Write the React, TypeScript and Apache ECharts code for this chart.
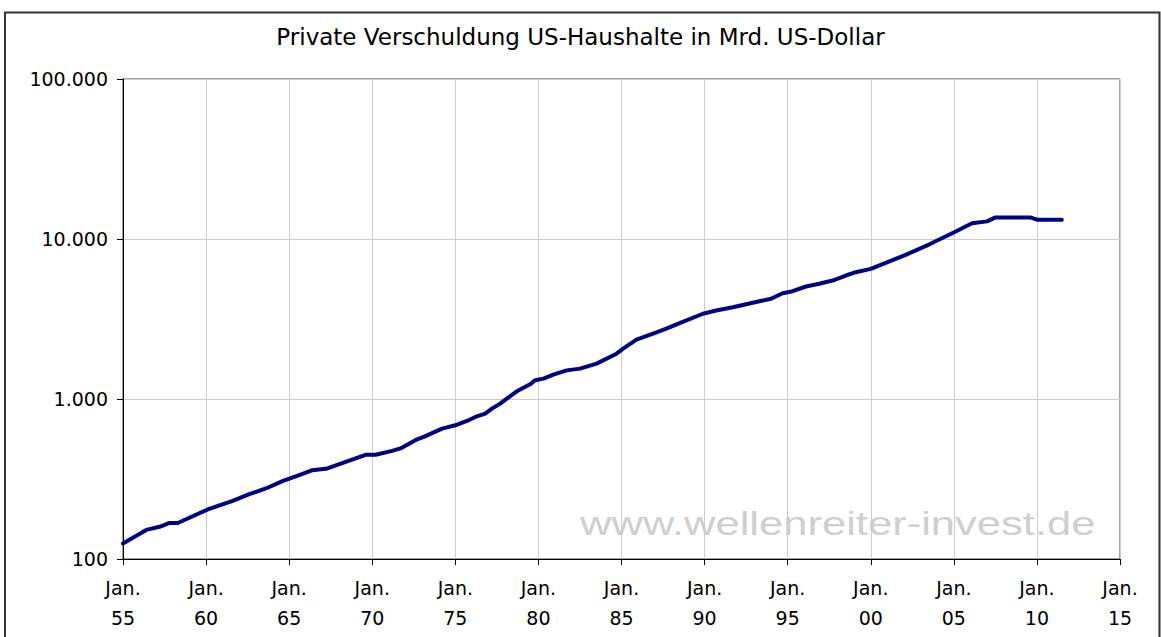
import React, { useEffect, useRef } from "react";
import * as echarts from "echarts";

const TITLE = "Private Verschuldung US-Haushalte in Mrd. US-Dollar";
const WATERMARK = "www.wellenreiter-invest.de";

// fractional years (x)
const years = [
  1955.0, 1956.4, 1957.2, 1957.8, 1958.3, 1960.1, 1961.6, 1962.6, 1963.6, 1964.6,
  1965.6, 1966.4, 1967.3, 1968.4, 1969.6, 1970.2, 1971.2, 1971.7, 1972.7, 1973.1,
  1974.2, 1975.0, 1975.7, 1976.2, 1976.8, 1977.2, 1977.7, 1978.1, 1978.7, 1979.5,
  1979.8, 1980.3, 1980.9, 1981.7, 1982.5, 1983.5, 1984.7, 1985.1, 1985.9, 1986.9,
  1987.7, 1988.5, 1989.9, 1990.7, 1991.7, 1993.3, 1994.0, 1994.7, 1995.3, 1996.1,
  1996.9, 1997.7, 1998.5, 1999.1, 2000.0, 2000.9, 2002.1, 2003.5, 2004.9, 2006.1,
  2007.0, 2007.5, 2009.6, 2010.0, 2011.5,
];

// household debt in bn USD
const debt = [
  125, 152, 159, 168, 168, 204, 231, 254, 276, 307,
  334, 359, 368, 405, 448, 448, 474, 491, 560, 580,
  653, 685, 729, 772, 811, 871, 936, 1006, 1117, 1235,
  1309, 1341, 1420, 1510, 1548, 1663, 1920, 2063, 2348, 2561,
  2750, 2980, 3410, 3575, 3748, 4085, 4229, 4583, 4718, 5048,
  5248, 5500, 5913, 6200, 6510, 7100, 7960, 9230, 10860, 12540,
  12890, 13650, 13650, 13210, 13210,
];

const yTickLabels: Record<number, string> = {
  100: "100",
  1000: "1.000",
  10000: "10.000",
  100000: "100.000",
};

const FONT = "DejaVu Sans";

export default function App() {
  const ref = useRef<HTMLDivElement>(null);

  useEffect(() => {
    if (!ref.current) return;
    const chart = echarts.init(ref.current, null, { renderer: "svg" });
    chart.setOption({
      animation: false,
      backgroundColor: "#ffffff",
      title: {
        text: TITLE,
        left: "center",
        top: 20,
        textStyle: {
          fontFamily: FONT,
          fontSize: 23,
          fontWeight: "normal",
          color: "#000",
        },
      },
      grid: {
        left: 123,
        right: 41,
        top: 79,
        bottom: 78,
        show: true,
        borderColor: "#444",
        borderWidth: 1,
        backgroundColor: "transparent",
      },
      graphic: [
        {
          type: "rect",
          z: -20,
          silent: true,
          shape: { x: 5, y: 12.5, width: 1154.5, height: 640 },
          style: { fill: "none", stroke: "#333", lineWidth: 2 },
        },
        {
          type: "text",
          z: -10,
          silent: true,
          x: 580,
          y: 507,
          scaleX: 1.32,
          style: {
            text: WATERMARK,
            fontFamily: "Liberation Sans",
            fontSize: 33,
            fill: "#cfcfcf",
          },
        },
      ],
      xAxis: {
        type: "value",
        min: 1955,
        max: 2015,
        interval: 5,
        axisLine: { show: true, lineStyle: { color: "#000", width: 1 } },
        axisTick: { show: true, length: 6, lineStyle: { color: "#000" } },
        splitLine: { show: true, lineStyle: { color: "#cccccc", width: 1 } },
        axisLabel: {
          margin: 14,
          fontFamily: FONT,
          fontSize: 19,
          lineHeight: 30,
          color: "#000",
          formatter: (v: number) =>
            "Jan.\n" + String(Math.round(v) % 100).padStart(2, "0"),
        },
      },
      yAxis: {
        type: "log",
        logBase: 10,
        min: 100,
        max: 100000,
        axisLine: { show: true, lineStyle: { color: "#000", width: 1 } },
        axisTick: { show: true, length: 6, lineStyle: { color: "#000" } },
        splitLine: { show: true, lineStyle: { color: "#cccccc", width: 1 } },
        minorTick: { show: false },
        axisLabel: {
          margin: 15,
          fontFamily: FONT,
          fontSize: 19,
          color: "#000",
          formatter: (v: number) => yTickLabels[Math.round(v)] ?? String(v),
        },
      },
      series: [
        {
          type: "line",
          data: years.map((y, i) => [y, debt[i]]),
          showSymbol: false,
          smooth: false,
          lineStyle: { color: "#000080", width: 4, join: "round", cap: "round" },
          itemStyle: { color: "#000080" },
          z: 5,
        },
      ],
    });
    return () => chart.dispose();
  }, []);

  return (
    <div
      ref={ref}
      style={{ position: "absolute", left: 0, top: 0, width: 1161, height: 637 }}
    />
  );
}
